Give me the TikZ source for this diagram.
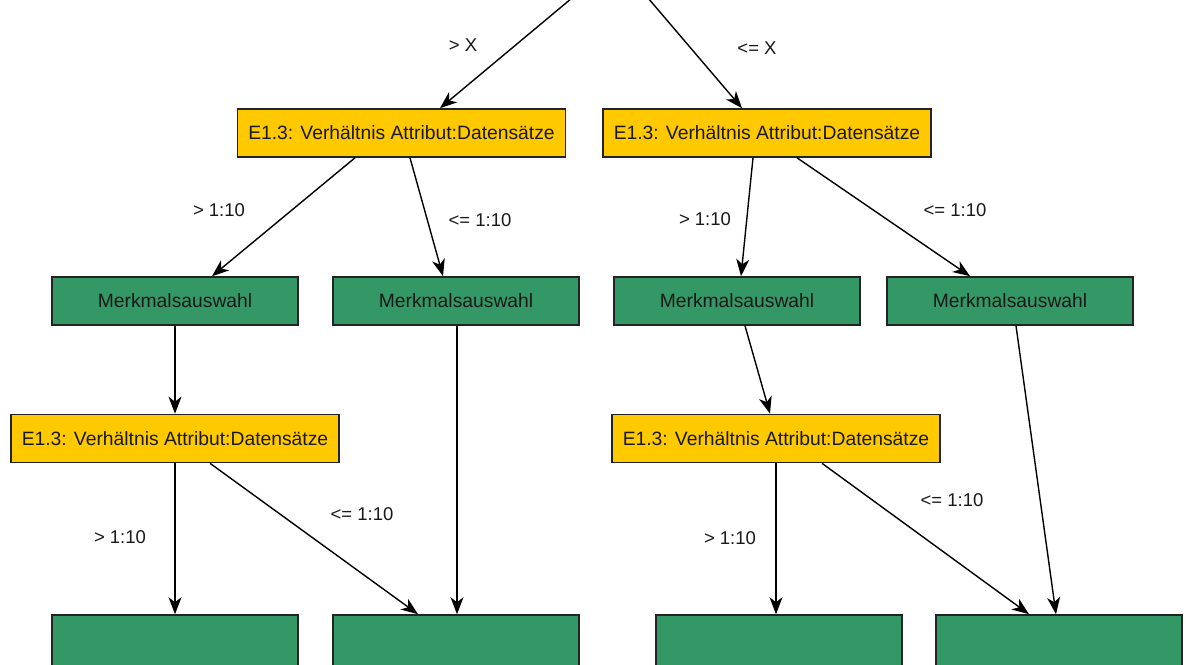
\documentclass[tikz,border=0pt]{standalone}
\usepackage{fontspec}
\setmainfont{Liberation Sans}
\usetikzlibrary{arrows.meta}
\definecolor{boxyellow}{RGB}{255,201,0}
\definecolor{boxgreen}{RGB}{52,152,102}
\definecolor{boxline}{RGB}{35,35,35}
\definecolor{txt}{RGB}{25,25,25}
\begin{document}
\begin{tikzpicture}[x=1pt,y=-1pt,
  decision/.style={draw=boxline, line width=1.6pt, fill=boxyellow, text=txt,
    minimum width=328pt, minimum height=48pt, inner sep=0pt,
    font=\fontsize{19.3}{22}\selectfont},
  action/.style={draw=boxline, line width=1.6pt, fill=boxgreen, text=txt,
    minimum width=246pt, minimum height=48pt, inner sep=0pt,
    font=\fontsize{19.3}{22}\selectfont},
  leaf/.style={draw=boxline, line width=1.6pt, fill=boxgreen,
    minimum width=246pt, minimum height=60pt, inner sep=0pt},
  arr/.style={draw=black, line width=1.4pt,
    -{Stealth[length=17pt,width=13pt,inset=5pt]}},
  cond/.style={text=txt, inner sep=0pt, font=\fontsize{18.5}{22}\selectfont}]
\useasboundingbox (0,0) rectangle (1186,664);
\clip (0,0) rectangle (1186,664);
\fill[white] (0,0) rectangle (1186,664);

% incoming branches from above
\coordinate (inL) at (572,-2);
\coordinate (inR) at (648,-2);

% first level decisions
\node[decision] (dL) at (401.5,133) {E1.3: Verhältnis Attribut:Datensätze};
\node[decision] (dR) at (767,133) {E1.3: Verhältnis Attribut:Datensätze};

% feature selection steps
\node[action] (mA) at (175,301) {Merkmalsauswahl};
\node[action] (mB) at (456,301) {Merkmalsauswahl};
\node[action] (mC) at (737,301) {Merkmalsauswahl};
\node[action] (mD) at (1010,301) {Merkmalsauswahl};

% second level decisions
\node[decision] (eL) at (175,438.5) {E1.3: Verhältnis Attribut:Datensätze};
\node[decision] (eR) at (776,438.5) {E1.3: Verhältnis Attribut:Datensätze};

% leaves
\node[leaf] (lA) at (175,645) {};
\node[leaf] (lB) at (456,645) {};
\node[leaf] (lC) at (779,645) {};
\node[leaf] (lD) at (1059,645) {};

% connectors
\draw[arr] (inL) -- ([xshift=38.5pt]dL.north);
\draw[arr] (inR) -- ([xshift=-25pt]dR.north);

\draw[arr] ([xshift=-46.5pt]dL.south) -- ([xshift=37pt]mA.north);
\draw[arr] ([xshift=8.5pt]dL.south) -- ([xshift=-13pt]mB.north);
\draw[arr] ([xshift=-14pt]dR.south) -- ([xshift=4pt]mC.north);
\draw[arr] ([xshift=30pt]dR.south) -- ([xshift=-40pt]mD.north);

\draw[arr] (mA.south) -- (eL.north);
\draw[arr] ([xshift=1pt]mB.south) -- ([xshift=1pt]lB.north);
\draw[arr] ([xshift=8pt]mC.south) -- ([xshift=-6pt]eR.north);
\draw[arr] ([xshift=6pt]mD.south) -- ([xshift=-3pt]lD.north);

\draw[arr] (eL.south) -- (lA.north);
\draw[arr] ([xshift=35pt]eL.south) -- ([xshift=-38pt]lB.north);
\draw[arr] (eR.south) -- ([xshift=-3pt]lC.north);
\draw[arr] ([xshift=46pt]eR.south) -- ([xshift=-30pt]lD.north);

% branch conditions
\node[cond] (cX1) at (463,45) {> X};
\node[cond] (cX2) at (757,48) {<= X};
\node[cond] (c1) at (219,210) {> 1:10};
\node[cond] (c2) at (480,220) {<= 1:10};
\node[cond] (c3) at (705,219) {> 1:10};
\node[cond] (c4) at (955,210) {<= 1:10};
\node[cond] (c5) at (120,537) {> 1:10};
\node[cond] (c6) at (362,514) {<= 1:10};
\node[cond] (c7) at (730,538) {> 1:10};
\node[cond] (c8) at (952,500) {<= 1:10};
\end{tikzpicture}
\end{document}
